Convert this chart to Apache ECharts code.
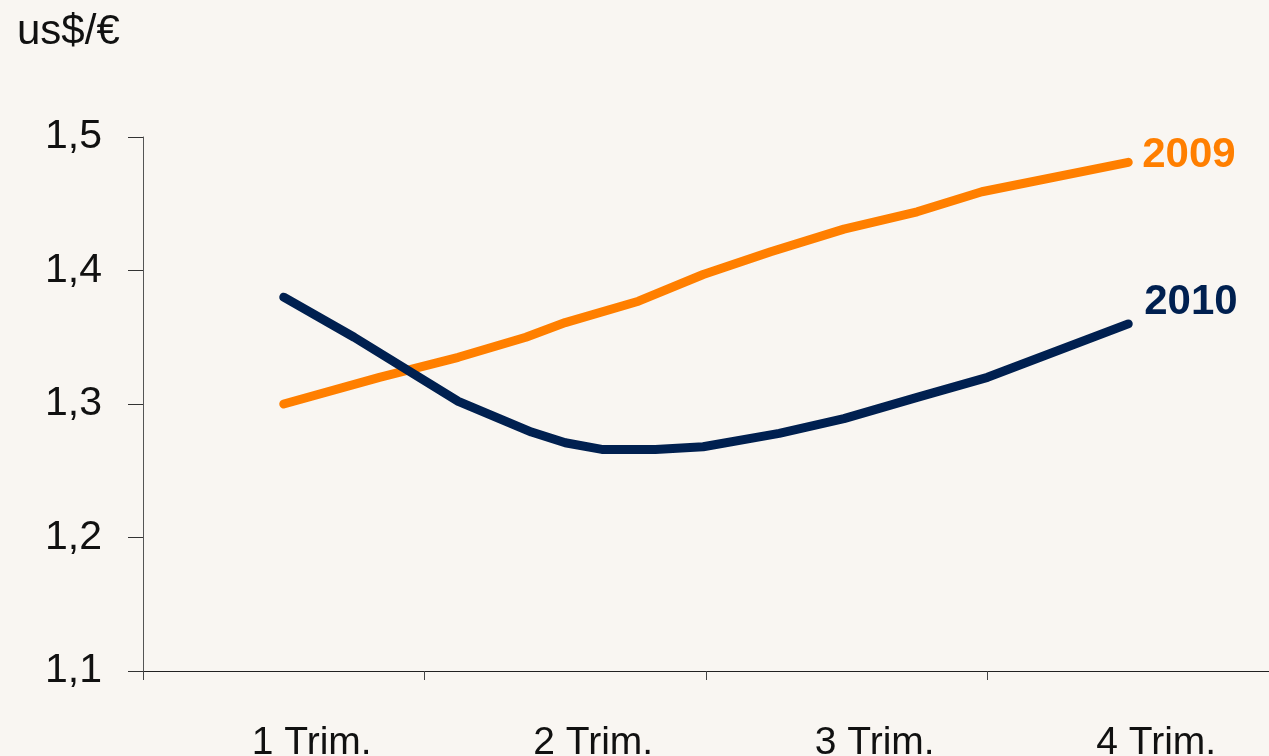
<!DOCTYPE html>
<html lang="es">
<head>
    <meta charset="utf-8">
    <title>us$/€</title>
    <script src="https://cdn.jsdelivr.net/npm/echarts@6/dist/echarts.min.js"></script>
    <style>
        html, body { margin: 0; padding: 0; background: #f9f6f2; }
    </style>
</head>
<body>
    <div id="main" style="width: 1269px;height:756px;"></div>
    <script type="text/javascript">
        // categorias del eje X
        var trimestres = ['1 Trim.', '2 Trim.', '3 Trim.', '4 Trim.'];
        var yTicks = [1.1, 1.2, 1.3, 1.4, 1.5];

        // posicion en el eje (0..4 = ancho de los 4 trimestres) y valor us$/€
        var x2009 = [0.50, 0.84, 1.12, 1.36, 1.50, 1.76, 1.99, 2.23, 2.49, 2.75, 2.98, 3.50];
        var y2009 = [1.300, 1.320, 1.335, 1.350, 1.361, 1.377, 1.397, 1.414, 1.431, 1.444, 1.459, 1.481];

        var x2010 = [0.50, 0.75, 1.12, 1.38, 1.50, 1.63, 1.82, 1.99, 2.26, 2.49, 2.75, 3.00, 3.50];
        var y2010 = [1.380, 1.350, 1.302, 1.279, 1.271, 1.266, 1.266, 1.268, 1.278, 1.289, 1.305, 1.320, 1.360];

        function pares(xs, ys) {
            return xs.map(function (x, i) { return [x, ys[i]]; });
        }

        var fuente = '"Liberation Sans", Arial, sans-serif';
        var myChart = echarts.init(document.getElementById('main'));

        var option = {
            backgroundColor: '#f9f6f2',
            animation: false,
            title: {
                text: 'us$/€',
                left: 12,
                top: 6,
                textStyle: { fontFamily: fuente, fontSize: 42, fontWeight: 'normal', color: '#111' }
            },
            grid: { left: 143, right: 0, top: 137, bottom: 85, outerBoundsMode: 'none' },
            xAxis: [{
                type: 'category',
                data: trimestres,
                boundaryGap: true,
                axisLine: { lineStyle: { color: '#222', width: 1 } },
                axisTick: { show: true, length: 9, lineStyle: { color: '#444' } },
                axisLabel: {
                    margin: 53,
                    padding: [0, 0, 0, 56],
                    fontFamily: fuente, fontSize: 39, color: '#111'
                },
                splitLine: { show: false }
            }, {
                type: 'value',
                min: 0,
                max: 4,
                show: false
            }],
            yAxis: {
                type: 'value',
                min: yTicks[0],
                max: yTicks[yTicks.length - 1],
                interval: 0.1,
                axisLine: { show: true, lineStyle: { color: '#555', width: 1 } },
                axisTick: { show: true, length: 15, lineStyle: { color: '#333' } },
                axisLabel: {
                    margin: 41,
                    fontFamily: fuente, fontSize: 41, color: '#111',
                    formatter: function (v) { return v.toFixed(1).replace('.', ','); }
                },
                splitLine: { show: false }
            },
            series: [{
                name: '2009',
                type: 'line',
                xAxisIndex: 1,
                data: pares(x2009, y2009),
                symbol: 'none',
                lineStyle: { color: '#ff7f00', width: 9, cap: 'round', join: 'round' },
                endLabel: {
                    show: true,
                    formatter: '2009',
                    distance: 14,
                    offset: [0, -7],
                    fontFamily: fuente, fontSize: 42, fontWeight: 'bold', color: '#ff7f00'
                }
            }, {
                name: '2010',
                type: 'line',
                xAxisIndex: 1,
                data: pares(x2010, y2010),
                symbol: 'none',
                lineStyle: { color: '#002050', width: 9, cap: 'round', join: 'round' },
                endLabel: {
                    show: true,
                    formatter: '2010',
                    distance: 16,
                    offset: [0, -21],
                    fontFamily: fuente, fontSize: 42, fontWeight: 'bold', color: '#002050'
                }
            }]
        };

        myChart.setOption(option);
    </script>
</body>
</html>
